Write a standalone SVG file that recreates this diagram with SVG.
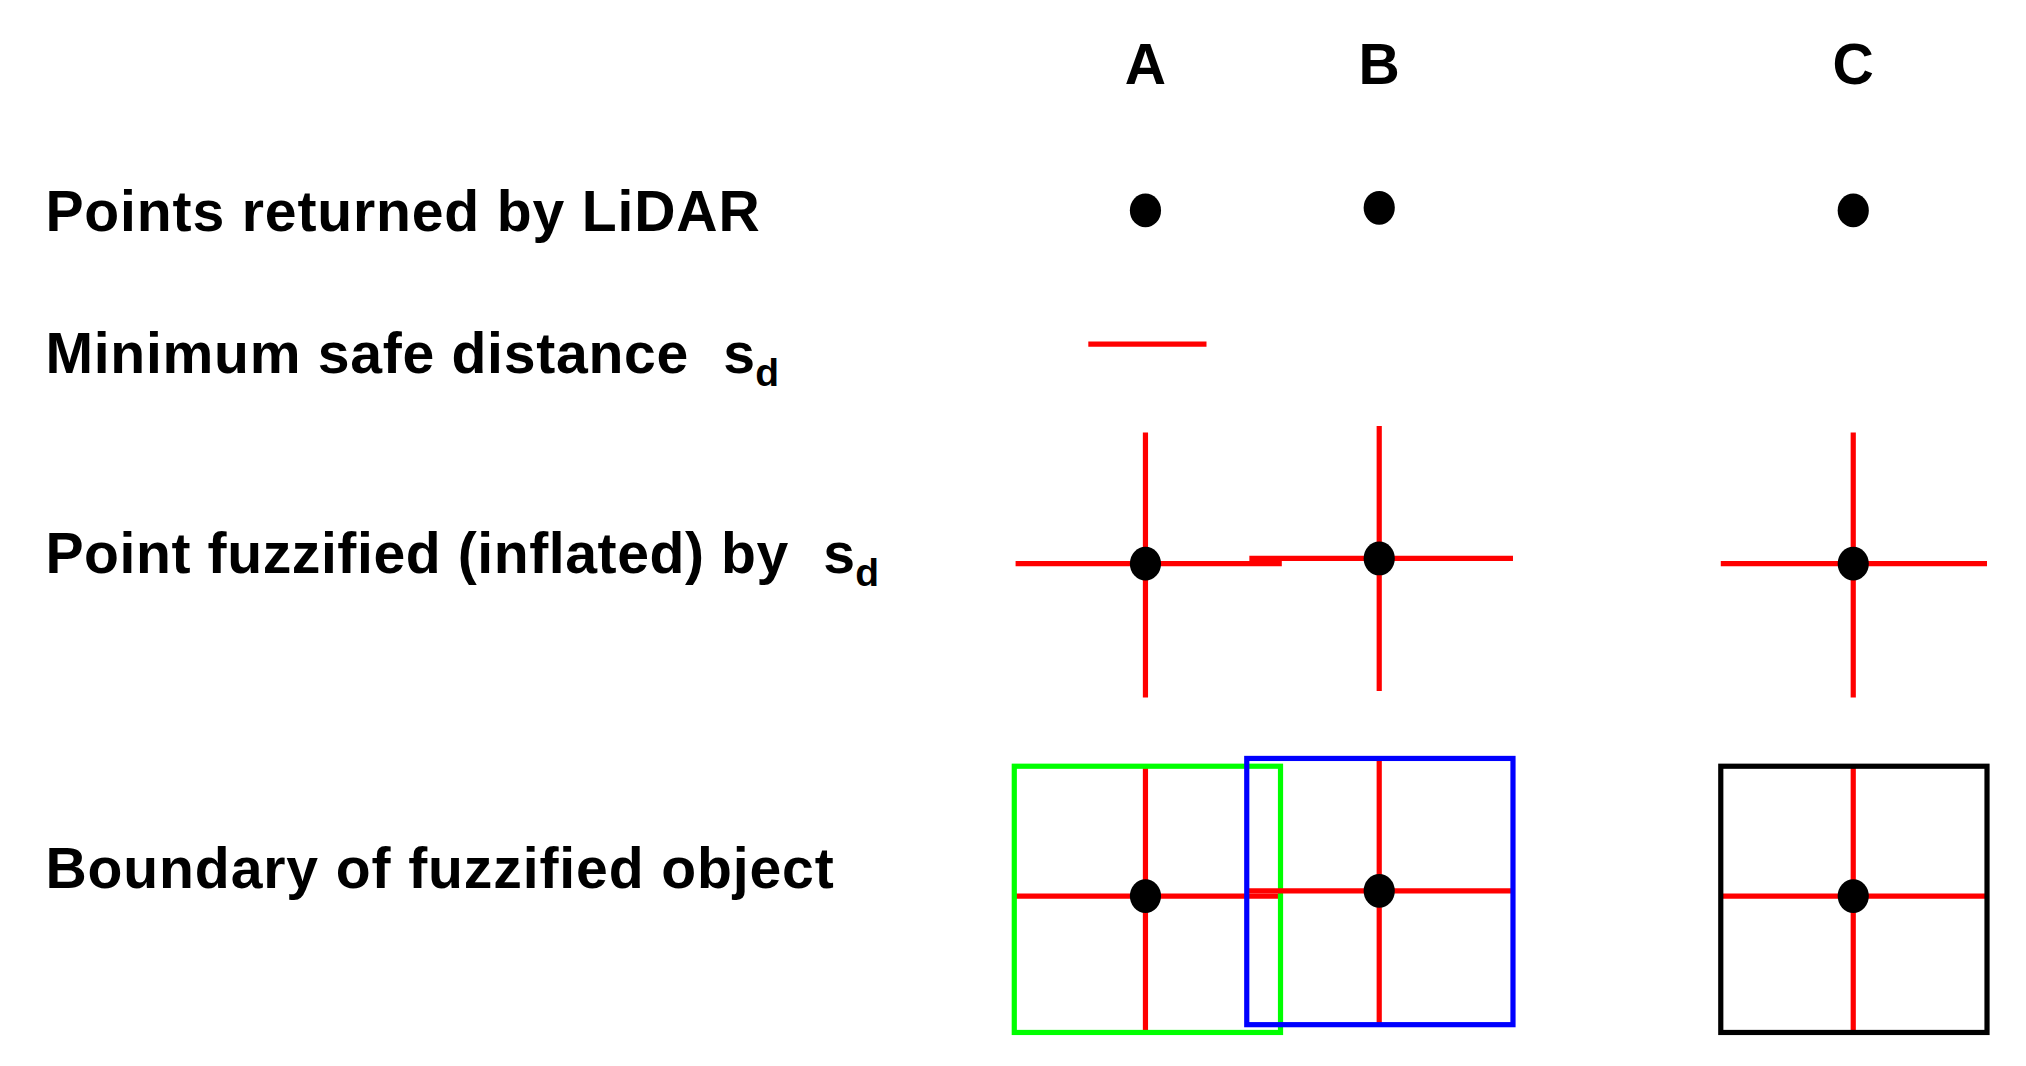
<svg xmlns="http://www.w3.org/2000/svg" width="2026" height="1066" viewBox="0 0 2026 1066">
<style>
text{font-family:"Liberation Sans",Arial,sans-serif;font-weight:bold;fill:#000}
.lbl{font-size:44px}
.sub{font-size:30px}
.r{stroke:#f00;stroke-width:4;fill:none}
.d{fill:#000}
</style>
<rect width="2026" height="1066" fill="#fff"/>
<g transform="scale(1.2987)">
<g id="headers">
<text x="882" y="65" text-anchor="middle" class="lbl">A</text>
<text x="1062" y="65" text-anchor="middle" class="lbl">B</text>
<text x="1427" y="65" text-anchor="middle" class="lbl">C</text>
</g>
<g id="row-labels">
<text x="35" y="178" class="lbl" textLength="550">Points returned by LiDAR</text>
<text x="35" y="287" class="lbl" textLength="495">Minimum safe distance</text>
<text x="557" y="287" class="lbl">s<tspan class="sub" dy="10">d</tspan></text>
<text x="35" y="441" class="lbl" textLength="572">Point fuzzified (inflated) by</text>
<text x="634" y="441" class="lbl">s<tspan class="sub" dy="10">d</tspan></text>
<text x="35" y="684" class="lbl" textLength="607">Boundary of fuzzified object</text>
</g>
<g id="row1-points">
<ellipse class="d" cx="882" cy="162" rx="12" ry="13"/>
<ellipse class="d" cx="1062" cy="160" rx="12" ry="13"/>
<ellipse class="d" cx="1427" cy="162" rx="12" ry="13"/>
</g>
<g id="row2-sd"><line class="r" x1="838" y1="265" x2="929" y2="265"/></g>
<g id="row3-A"><line class="r" x1="882" y1="333" x2="882" y2="537"/><line class="r" x1="782" y1="434" x2="987" y2="434"/><ellipse class="d" cx="882" cy="434" rx="12" ry="13"/></g>
<g id="row3-B"><line class="r" x1="1062" y1="328" x2="1062" y2="532"/><line class="r" x1="962" y1="430" x2="1165" y2="430"/><ellipse class="d" cx="1062" cy="430" rx="12" ry="13"/></g>
<g id="row3-C"><line class="r" x1="1427" y1="333" x2="1427" y2="537"/><line class="r" x1="1325" y1="434" x2="1530" y2="434"/><ellipse class="d" cx="1427" cy="434" rx="12" ry="13"/></g>
<g id="row4-A"><line class="r" x1="882" y1="590" x2="882" y2="795"/><line class="r" x1="782" y1="690" x2="986" y2="690"/><rect x="781" y="590" width="205" height="205" fill="none" stroke="#0f0" stroke-width="4"/><ellipse class="d" cx="882" cy="690" rx="12" ry="13"/></g>
<g id="row4-B"><line class="r" x1="1062" y1="584" x2="1062" y2="789"/><line class="r" x1="960" y1="686" x2="1165" y2="686"/><rect x="960" y="584" width="205" height="205" fill="none" stroke="#00f" stroke-width="4"/><ellipse class="d" cx="1062" cy="686" rx="12" ry="13"/></g>
<g id="row4-C"><line class="r" x1="1427" y1="590" x2="1427" y2="795"/><line class="r" x1="1325" y1="690" x2="1530" y2="690"/><rect x="1325" y="590" width="205" height="205" fill="none" stroke="#000" stroke-width="4"/><ellipse class="d" cx="1427" cy="690" rx="12" ry="13"/></g>
</g>
</svg>
